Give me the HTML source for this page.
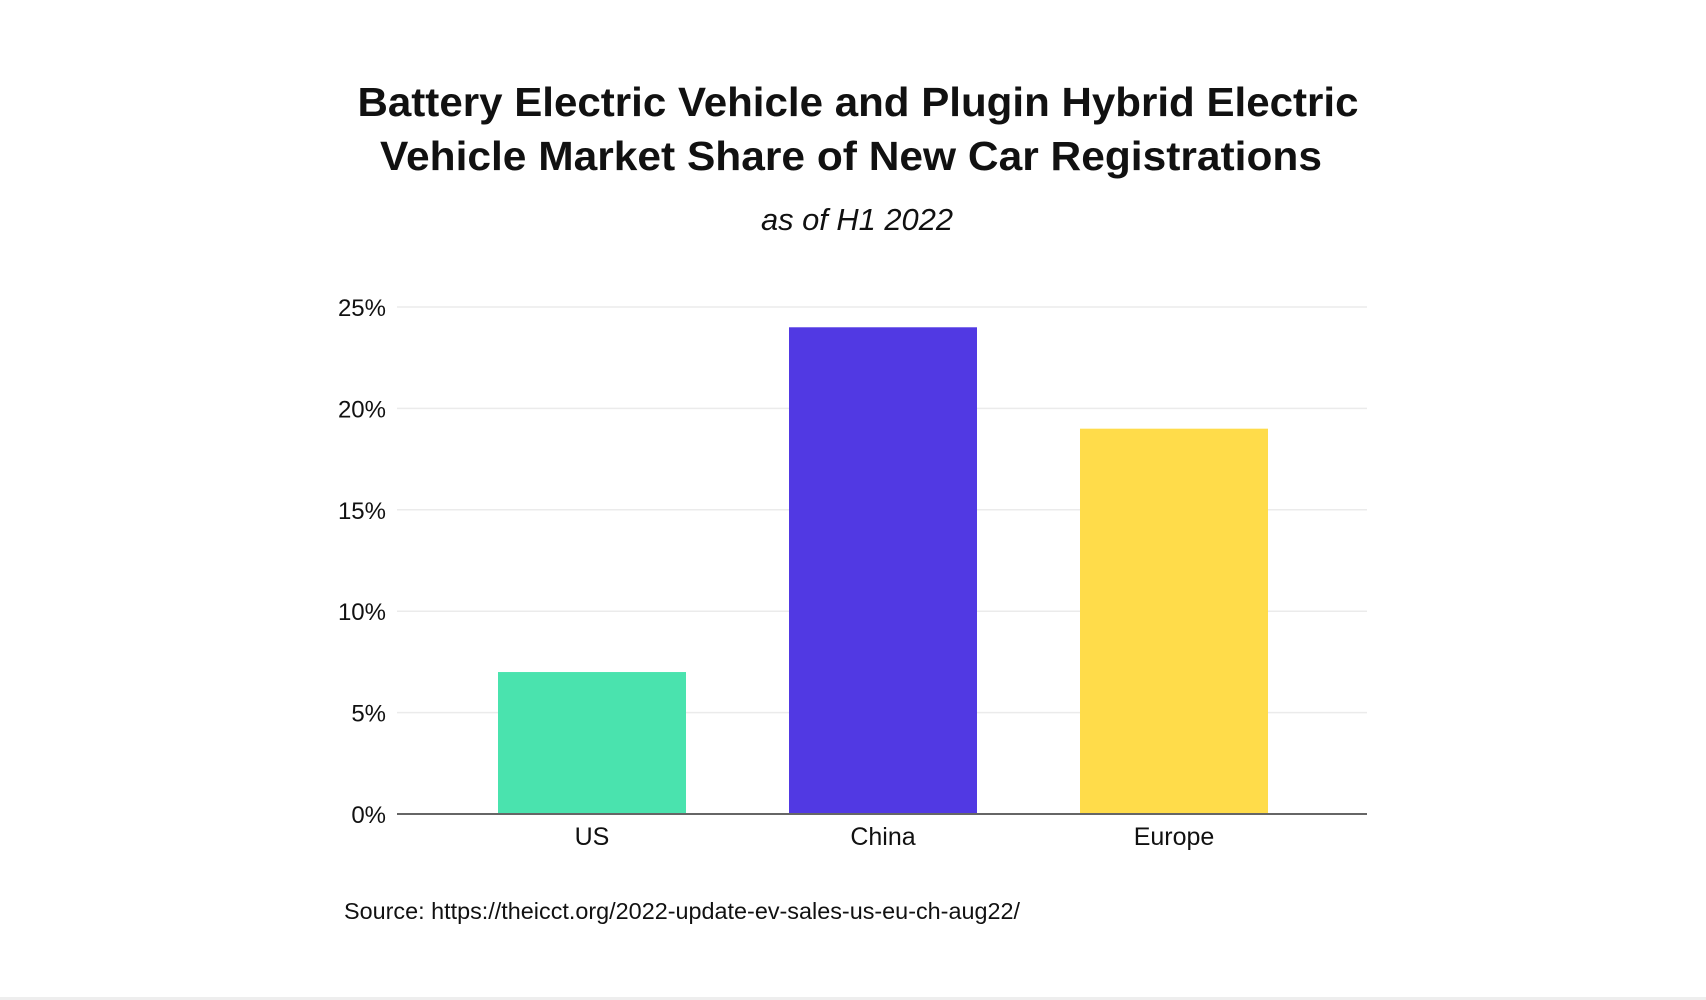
<!DOCTYPE html>
<html><head><meta charset="utf-8"><style>
html,body{margin:0;padding:0;background:#fff;}
svg{display:block;font-family:"Liberation Sans",sans-serif;}
</style></head><body>
<svg id="chart" width="1706" height="1000" viewBox="0 0 1706 1000">
<rect x="0" y="0" width="1706" height="1000" fill="#fff"/>
<rect x="0" y="997" width="1706" height="3" fill="#eeeeee"/>
<text x="858" y="116" text-anchor="middle" font-size="41" font-weight="bold" fill="#111" textLength="1001" lengthAdjust="spacingAndGlyphs">Battery Electric Vehicle and Plugin Hybrid Electric</text>
<text x="851" y="170" text-anchor="middle" font-size="41" font-weight="bold" fill="#111" textLength="942" lengthAdjust="spacingAndGlyphs">Vehicle Market Share of New Car Registrations</text>
<text x="857" y="230" text-anchor="middle" font-size="31" font-style="italic" fill="#111" textLength="192" lengthAdjust="spacingAndGlyphs">as of H1 2022</text>
<g id="grid"></g>
<g id="bars"></g>
<g id="labels"></g>
<text x="344" y="919" font-size="23" fill="#111" textLength="676" lengthAdjust="spacingAndGlyphs">Source: https://theicct.org/2022-update-ev-sales-us-eu-ch-aug22/</text>
</svg>
<script>
const categories = ["US", "China", "Europe"];
const values = [7, 24, 19];
const colors = ["#4ae3ae", "#5139e3", "#ffdc4a"];
const tickValues = [0, 5, 10, 15, 20, 25];
const tickLabels = ["0%", "5%", "10%", "15%", "20%", "25%"];

const NS = "http://www.w3.org/2000/svg";
const plotLeft = 397, plotRight = 1367, plotTop = 307, plotBottom = 814;
const yMax = 25;
function yScale(v){ return plotBottom - (v / yMax) * (plotBottom - plotTop); }
function xCenter(i){ return 883 + (i - (categories.length - 1) / 2) * 291; }
const barW = 188;

const grid = document.getElementById("grid");
tickValues.forEach(function(t, i){
  const y = yScale(t);
  if (t !== 0) {
    const ln = document.createElementNS(NS, "line");
    ln.setAttribute("x1", plotLeft); ln.setAttribute("x2", plotRight);
    ln.setAttribute("y1", y); ln.setAttribute("y2", y);
    ln.setAttribute("stroke", "#ebebeb");
    ln.setAttribute("stroke-width", 1.5);
    
    
    grid.appendChild(ln);
  }
  const tx = document.createElementNS(NS, "text");
  tx.setAttribute("x", 386); tx.setAttribute("y", y + 9);
  tx.setAttribute("text-anchor", "end");
  tx.setAttribute("font-size", "24"); tx.setAttribute("fill", "#111");
  tx.textContent = tickLabels[i];
  
  
  grid.appendChild(tx);
});

const bars = document.getElementById("bars");
const labels = document.getElementById("labels");
categories.forEach(function(c, i){
  const cx = xCenter(i);
  const r = document.createElementNS(NS, "rect");
  r.setAttribute("x", cx - barW / 2);
  r.setAttribute("y", yScale(values[i]));
  r.setAttribute("width", barW);
  r.setAttribute("height", yScale(0) - yScale(values[i]));
  r.setAttribute("fill", colors[i]);
  
  
  bars.appendChild(r);
  const t = document.createElementNS(NS, "text");
  t.setAttribute("x", cx); t.setAttribute("y", 845);
  t.setAttribute("text-anchor", "middle");
  t.setAttribute("font-size", "25"); t.setAttribute("fill", "#111");
  t.textContent = c;
  
  
  labels.appendChild(t);
});

const axis = document.createElementNS(NS, "line");
axis.setAttribute("x1", plotLeft); axis.setAttribute("x2", plotRight);
axis.setAttribute("y1", yScale(0)); axis.setAttribute("y2", yScale(0));
axis.setAttribute("stroke", "#666");
axis.setAttribute("stroke-width", 2);


document.getElementById("chart").appendChild(axis);
</script>
</body></html>
